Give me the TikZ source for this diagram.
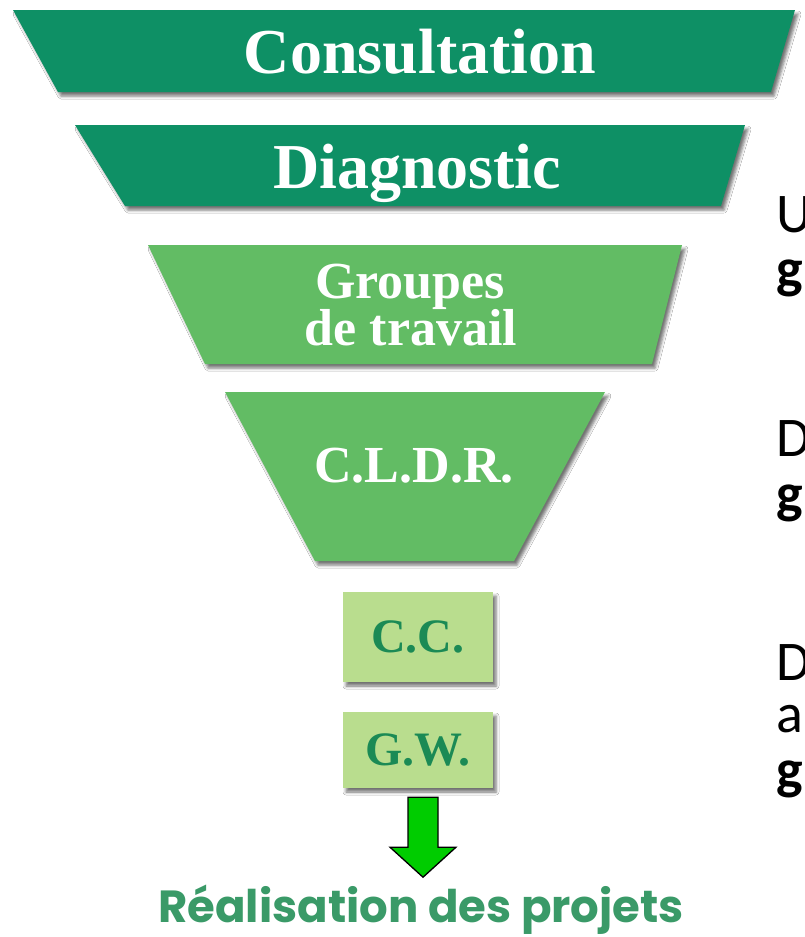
\documentclass[tikz,border=0pt]{standalone}
\usepackage{fontspec}
\setmainfont{Liberation Serif}
\newfontfamily\calfont{Carlito}
\newfontfamily\popfont{Poppins}
\usetikzlibrary{shadows.blur,calc}
\definecolor{dkgreen}{HTML}{0E9065}
\definecolor{ltgreen}{HTML}{62BC64}
\definecolor{palegreen}{HTML}{B9DD8E}
\definecolor{boxtext}{HTML}{1B8A55}
\definecolor{arrowgreen}{HTML}{00CC00}
\definecolor{realgreen}{HTML}{3A9A68}
\tikzset{
  shadowed/.style={blur shadow={shadow xshift=3pt,shadow yshift=-4pt,shadow blur radius=3pt,shadow opacity=55}},
  darkband/.style={fill=dkgreen,shadowed},
  lightband/.style={fill=ltgreen,shadowed},
  bandtext/.style={text=white,anchor=base,inner sep=0pt,font=\bfseries\fontsize{#1}{#1}\selectfont},
  smallbox/.style={fill=palegreen,shadowed,minimum width=150pt,minimum height=90pt,inner sep=0pt,text=boxtext,font=\bfseries\fontsize{48}{48}\selectfont},
  sidetext/.style={anchor=base west,inner sep=0pt,font=\calfont\fontsize{56}{56}\selectfont},
  sidebold/.style={sidetext,font=\calfont\bfseries\fontsize{56}{56}\selectfont},
  bigarrow/.style={fill=arrowgreen,draw=black,line width=1.3pt,line join=miter}
}
\begin{document}
\begin{tikzpicture}[x=1pt,y=-1pt]
\useasboundingbox (0,0) rectangle (804,937);
\fill[white] (0,0) rectangle (804,937);
% bands
\fill[darkband] (13,10) -- (795,10) -- (771,92) -- (58,92) -- cycle;
\node[bandtext=64] (cons) at (420,73) {Consultation};
\fill[darkband] (75,125) -- (745,125) -- (721,206) -- (125,206) -- cycle;
\node[bandtext=64] (diag) at (417,188) {Diagnostic};
\fill[lightband] (148,245) -- (682,245) -- (652,364) -- (205,364) -- cycle;
\node[bandtext=52] (grp1) at (410,298) {Groupes};
\node[bandtext=52] (grp2) at (411,345) {de travail};
\fill[lightband] (225,392) -- (605,392) -- (514,561) -- (315,561) -- cycle;
\node[bandtext=52] (cldr) at (414,482) {C.L.D.R.};
% small boxes
\node[smallbox] (cc) at (418,637) {C.C.};
\node[smallbox,minimum height=76pt] (gw) at (418,750) {G.W.};
% result
\node[anchor=base,inner sep=0pt,text=realgreen,font=\popfont\bfseries\fontsize{45}{45}\selectfont] (real) at (421,922) {Réalisation des projets};
% arrow from G.W. to result
\coordinate (atop) at ($(gw.south)+(5,9)$);
\filldraw[bigarrow] ($(atop)+(-15,0)$) -- ($(atop)+(15,0)$) -- ($(atop)+(15,50)$) -- ($(atop)+(33,50)$)
  -- ($(atop)+(0,80)$) -- ($(atop)+(-33,50)$) -- ($(atop)+(-15,50)$) -- cycle;
% side text, cut off at the right edge as in the reference
\node[sidetext] (s1) at (776,232) {U};
\node[sidebold] (s2) at (776,287) {g};
\node[sidetext] (s3) at (776,456) {D};
\node[sidebold] (s4) at (776,512) {g};
\node[sidetext] (s5) at (776,680) {D};
\node[sidetext] (s6) at (776,732) {a};
\node[sidebold] (s7) at (776,788) {g};
\end{tikzpicture}
\end{document}
